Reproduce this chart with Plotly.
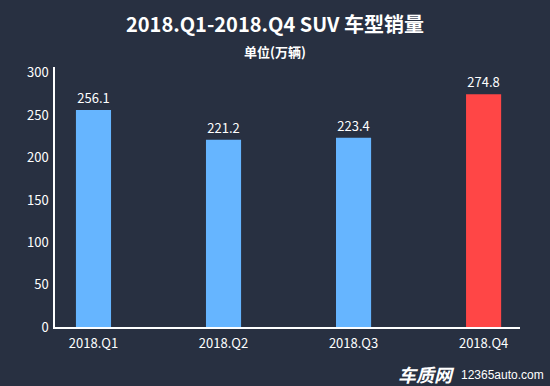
import plotly.graph_objects as go

categories = ["2018.Q1", "2018.Q2", "2018.Q3", "2018.Q4"]
sales = [256.1, 221.2, 223.4, 274.8]
bar_colors = ["#66b5ff", "#66b5ff", "#66b5ff", "#ff4646"]
y_ticks = [0, 50, 100, 150, 200, 250, 300]

FONT = "Noto Sans CJK SC, Microsoft YaHei, sans-serif"

W, H = 550, 386
ML, MR, MT, MB = 55, 30, 67, 59
pw, ph = W - ML - MR, H - MT - MB


def px(x):
    return (x - ML) / pw


def py(y):
    return (H - MB - y) / ph


fig = go.Figure()
fig.add_trace(go.Bar(
    x=categories, y=sales,
    marker=dict(color=bar_colors, line=dict(width=0)),
    width=0.27,
    text=[f"{v:.1f}" for v in sales],
    textposition="outside",
    textfont=dict(color="white", size=13, family=FONT),
    cliponaxis=False,
))

fig.update_layout(
    width=W, height=H,
    margin=dict(l=ML, r=MR, t=MT, b=MB),
    paper_bgcolor="#283041",
    plot_bgcolor="#283041",
    showlegend=False,
    font=dict(family=FONT, color="white", size=13),
    title=dict(
        text="<b>2018.Q1-2018.Q4 SUV 车型销量</b>",
        x=0.5, xanchor="center", y=1 - 25 / H, yanchor="middle",
        font=dict(size=20, color="white", family=FONT),
    ),
    annotations=[
        dict(text="<b>单位(万辆)</b>", x=px(275), y=py(51), xref="paper", yref="paper",
             showarrow=False, font=dict(size=13, color="white", family=FONT),
             xanchor="center", yanchor="middle"),
        dict(text="<b><i>车质网</i></b>", x=px(457), y=py(374), xref="paper", yref="paper",
             showarrow=False, font=dict(size=18, color="white", family=FONT),
             xanchor="right", yanchor="middle"),
        dict(text="12365auto.com", x=px(459), y=py(375), xref="paper", yref="paper",
             showarrow=False, font=dict(size=12, color="white", family="Arial, Liberation Sans"),
             xanchor="left", yanchor="middle"),
    ],
)

fig.update_xaxes(
    range=[-0.296, 3.28],
    showline=True, linecolor="white", linewidth=1.5,
    showgrid=False, zeroline=False, ticks="",
    tickfont=dict(color="white", size=13, family=FONT),
    ticklabelstandoff=4,
)
fig.update_yaxes(
    range=[0, 307],
    tickvals=y_ticks,
    showline=True, linecolor="white", linewidth=1.5,
    showgrid=False, zeroline=False, ticks="",
    tickfont=dict(color="white", size=13, family=FONT),
    ticklabelstandoff=2,
)

fig.write_html("out.html")
